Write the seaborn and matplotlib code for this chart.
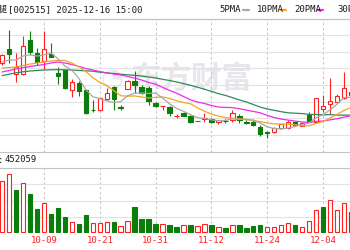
import numpy as np
import pandas as pd
import matplotlib
matplotlib.use("Agg")
import matplotlib.pyplot as plt
from matplotlib.lines import Line2D
import seaborn as sns

# ---------------- data (chart units; price axis is unlabelled in the crop) ----------------
dates = ["09-23", "09-24", "09-25", "09-26", "09-29", "09-30", "10-09", "10-10", "10-13", "10-14",
         "10-15", "10-16", "10-17", "10-20", "10-21", "10-22", "10-23", "10-24", "10-27", "10-28",
         "10-29", "10-30", "10-31", "11-03", "11-04", "11-05", "11-06", "11-07", "11-10", "11-11",
         "11-12", "11-13", "11-14", "11-17", "11-18", "11-19", "11-20", "11-21", "11-24", "11-25",
         "11-26", "11-27", "11-28", "12-01", "12-02", "12-03", "12-04", "12-05", "12-08", "12-09",
         "12-10"]
open_ = [137, 150.7, 126, 125.7, 160, 146.7, 139, 146.5, 126.7, 130,
         110.5, 117.5, 110, 90.5, 90, 101, 113, 93.5, 111.5, 119.5,
         113, 112.5, 97.5, 93.7, 93.3, 84, 86.7, 84.3, 78.8, 81.5,
         81, 77.7, 79.5, 80, 84.3, 78, 78.3, 73.3, 68, 67.7,
         71.7, 71.7, 77.7, 74.3, 85, 78.3, 91, 95.7, 98.3, 102.3,
         108]
close = [145, 145.7, 133.3, 153.7, 148.3, 138.5, 151.5, 143.5, 124.3, 112,
         118, 109.5, 87, 90, 102, 107, 101, 92.5, 119, 115,
         107.5, 99, 94, 94, 86.7, 84.5, 84.3, 77.7, 79.2, 81.8,
         77.7, 80.3, 79, 86.7, 80, 77.5, 75, 65.7, 67.5, 71.7,
         75.7, 78.3, 75, 77, 78.3, 102.3, 94, 99, 104.3, 112.3,
         105]
high = [146, 170, 146.7, 164, 169, 151.7, 169, 157, 133, 130.5,
        121, 119.5, 111.5, 100, 102.5, 112, 114, 95.5, 120, 129,
        115, 114, 98, 94, 94, 86.3, 87.7, 85, 79.2, 86.7,
        82, 80.3, 81, 90, 85.7, 80, 81, 75, 69, 73.3,
        76, 80, 78.5, 78, 87.7, 102.5, 105, 121.7, 105.7, 128.3,
        109]
low = [135, 137, 118.3, 125.5, 145, 135, 130, 143, 116, 111.5,
       103, 104.5, 86.5, 88, 89.5, 100.5, 90, 90, 111, 107.5,
       106.5, 95, 93, 90.5, 84.3, 82.3, 84, 77, 78.8, 78.3,
       77, 76, 77.3, 77.7, 76.7, 75.7, 74.3, 64.3, 61.7, 66.7,
       71.5, 71, 74, 74, 78, 78, 87.7, 85.7, 97.7, 101,
       104]
ma5 = [138, 140, 140, 144, 145.2, 143.9, 145.1, 147.1, 141.2, 134,
       129.9, 121.5, 110.2, 103.3, 101.3, 99.1, 97.4, 98.5, 104.3, 106.9,
       107, 106.6, 106.9, 101.9, 96.2, 91.6, 88.7, 85.4, 82.4, 81.5,
       80.1, 79.3, 79.6, 81.1, 80.7, 80.7, 79.6, 77, 73.1, 71.5,
       71.1, 71.8, 73.6, 75.5, 76.9, 82.2, 85.3, 90.1, 95.6, 102.4,
       102.9]
ma10 = [132, 132.5, 133, 134.5, 136, 137, 138, 139, 139.5, 139.6,
        136.9, 133.3, 128.6, 122.3, 117.6, 114.5, 109.4, 104.3, 103.8, 104.1,
        103, 102, 102.7, 103.1, 101.6, 99.3, 97.6, 96.2, 92.2, 88.8,
        85.9, 84, 82.5, 81.8, 81.1, 80.4, 79.5, 78.3, 77.1, 76.1,
        75.9, 75.7, 75.3, 74.3, 74.2, 76.6, 78.5, 81.9, 85.6, 89.6,
        92.5]
ma20 = [128, 129.5, 131, 132.3, 133.5, 134.5, 135.5, 137, 138, 137,
        135.5, 133.5, 131.5, 130, 128.5, 127, 126, 125, 123.5, 121.8,
        120, 117.6, 115.7, 112.7, 109.6, 106.9, 103.5, 100.2, 98, 96.5,
        94.5, 93, 92.6, 92.4, 91.3, 89.9, 88.6, 87.2, 84.6, 82.5,
        80.9, 79.9, 78.9, 78.1, 77.6, 78.5, 79, 80.1, 81.3, 82.9,
        84.2]
ma30 = [124.4, 125.8, 127.2, 128.2, 129, 129.5, 130, 130.2, 130.4, 130.2,
        130, 129.6, 129.2, 128.8, 127.8, 127.2, 126.5, 125.8, 125.2, 124.6,
        124, 123, 122, 120.7, 119.5, 118, 116.4, 114.7, 112.8, 110.8,
        108.6, 106.4, 104.6, 102.4, 100.1, 98.1, 95.5, 92.9, 91, 89.7,
        88.3, 87.2, 86.8, 86.4, 85.6, 85.5, 85.2, 85.4, 84.9, 84.9,
        84.8]
volume = [503000, 577000, 417000, 487000, 377000, 227000, 287000, 177000, 237000, 143000,
          100000, 77000, 167000, 90000, 90000, 100000, 100000, 57000, 107000, 243000,
          130000, 130000, 77000, 77000, 70000, 50000, 63000, 63000, 57000, 73000,
          70000, 43000, 37000, 70000, 63000, 37000, 57000, 63000, 43000, 43000,
          63000, 90000, 70000, 43000, 110000, 217000, 250000, 317000, 217000, 290000,
          200000]
vol_up = [1, 1, 0, 1, 0, 0, 1, 0, 0, 0,
          1, 0, 0, 1, 1, 1, 0, 1, 1, 0,
          0, 0, 0, 1, 0, 0, 1, 0, 1, 1,
          0, 1, 0, 1, 0, 0, 0, 0, 1, 1,
          1, 1, 0, 1, 1, 1, 0, 1, 1, 1,
          0]
tick_dates = ["10-09", "10-21", "10-31", "11-12", "11-24", "12-04"]
stock_name = "金字火腿"
header_text = "[002515] 2025-12-16 15:00"
vol_name = "成交量:"
vol_value = "452059"
ma_labels = ["5PMA", "10PMA", "20PMA", "30PMA"]
watermark = "东方财富"

# ---------------- style ----------------
RED = "#ff2020"
GREEN = "#0a7d0a"
MA_COLORS = ["#a8a8a8", "#f5a524", "#f028f0", "#2e8a5a"]
GRID = "#e2e2e2"
BORDER = "#c4c4c4"
TXT = "#1a1a1a"

sns.set_theme(style="white")
plt.rcParams["font.family"] = ["DejaVu Sans Mono", "Noto Sans CJK SC"]
plt.rcParams["axes.unicode_minus"] = False

W, H = 350, 250
fig = plt.figure(figsize=(W / 100, H / 100), dpi=100)
fig.patch.set_facecolor("white")

def fy(py):
    return 1 - py / H

def fx(px):
    return px / W

ax = fig.add_axes([0, fy(151.5), 1, (151.5 - 18.5) / H])
axv = fig.add_axes([0, fy(233), 1, (233 - 168) / H])

n = len(dates)
xi = np.arange(n)
o = np.array(open_); c = np.array(close); h = np.array(high); l = np.array(low)
up = c >= o

# x mapping: candle step 6.975 px, 10-09 (index 6) at px 44
step = 6.975
x0 = 6 - 44 / step
x1 = 6 + (W - 44) / step
for a in (ax, axv):
    a.set_xlim(x0, x1)
    a.set_facecolor("white")
    a.set_axisbelow(True)

tick_idx = [dates.index(d) for d in tick_dates]

# main panel
ax.set_ylim(48.5, 181.5)
ax.set_yticks(np.linspace(48.5, 181.5, 9)[1:-1])
ax.set_xticks(tick_idx)
ax.tick_params(length=0, labelbottom=False, labelleft=False)
ax.yaxis.grid(True, color=GRID, lw=0.8)
ax.xaxis.grid(True, color="#c8c8c8", lw=0.8, ls=(0, (2.2, 2.2)))
for s in ("left", "right"):
    ax.spines[s].set_visible(False)
for s in ("top", "bottom"):
    ax.spines[s].set_color(BORDER)
    ax.spines[s].set_linewidth(0.8)

# watermark (logo mark + name)
ax.text(fx(112), fy(79), "◔", transform=fig.transFigure, ha="center", va="center",
        fontsize=19, color="#e8e8ee", family=["DejaVu Sans"], zorder=0)
ax.text(fx(191), fy(79), watermark, transform=fig.transFigure, ha="center", va="center",
        fontsize=22, color="#e6e6ec", fontweight="bold", family=["Noto Sans CJK SC"], zorder=0)

cols = np.where(up, RED, GREEN)
ax.vlines(xi, l, h, colors=cols, lw=0.8, zorder=2)
body_lo = np.minimum(o, c)
body_h = np.maximum(np.abs(c - o), 0.5)
ax.bar(xi, body_h, bottom=body_lo, width=0.64,
       color=np.where(up, "white", GREEN), edgecolor=cols, linewidth=0.8, zorder=3)

ma_df = pd.DataFrame({"i": xi, "MA5": ma5, "MA10": ma10, "MA20": ma20, "MA30": ma30})
for name, col in zip(["MA30", "MA20", "MA10", "MA5"], MA_COLORS[::-1]):
    sns.lineplot(data=ma_df, x="i", y=name, ax=ax, color=col, lw=0.9, zorder=4, legend=False)
ax.set_xlabel(""); ax.set_ylabel("")

# volume panel
vup = np.array(vol_up).astype(bool)
vcols = np.where(vup, RED, GREEN)
axv.set_ylim(-15000, 635000)
axv.set_yticks(np.linspace(-15000, 635000, 5)[1:])
axv.bar(xi, volume, width=0.64, color=np.where(vup, "white", GREEN), edgecolor=vcols,
        linewidth=0.8, zorder=3)
axv.set_xticks(tick_idx)
axv.set_xticklabels(tick_dates, color=RED, fontsize=6.5)
axv.tick_params(axis="x", length=0, pad=2.5)
axv.tick_params(axis="y", length=0, labelleft=False)
axv.yaxis.grid(True, color=GRID, lw=0.8)
axv.xaxis.grid(True, color="#c8c8c8", lw=0.8, ls=(0, (2.2, 2.2)))
for s in ("left", "right", "bottom"):
    axv.spines[s].set_visible(False)
axv.spines["top"].set_color(BORDER)
axv.spines["top"].set_linewidth(0.8)
axv.set_xlabel(""); axv.set_ylabel("")

# header
fig.add_artist(Line2D([0, 1], [fy(18.5), fy(18.5)], color=BORDER, lw=0.8))
fig.text(fx(8), fy(9.8), stock_name, ha="right", va="center", fontsize=6.5, color=TXT)
fig.text(fx(8), fy(9.8), header_text, ha="left", va="center", fontsize=6.5, color=TXT)
lab_x = [219.3, 256.7, 294, 337.7]
dash_x = [(243, 249), (281, 285.5), (318.3, 323), (366, 371)]
for lab, lx, (d0, d1), col in zip(ma_labels, lab_x, dash_x, MA_COLORS):
    fig.text(fx(lx), fy(9.8), lab, ha="left", va="center", fontsize=6.5, color=TXT)
    fig.add_artist(Line2D([fx(d0), fx(d1)], [fy(10.3), fy(10.3)], color=col, lw=1.6))

# volume header
fig.text(fx(4.5), fy(160), vol_name, ha="right", va="center", fontsize=6.5, color=TXT)
fig.text(fx(4.5), fy(160), vol_value, ha="left", va="center", fontsize=6.5, color=TXT)

fig.savefig("out.png", dpi=100, facecolor="white")
